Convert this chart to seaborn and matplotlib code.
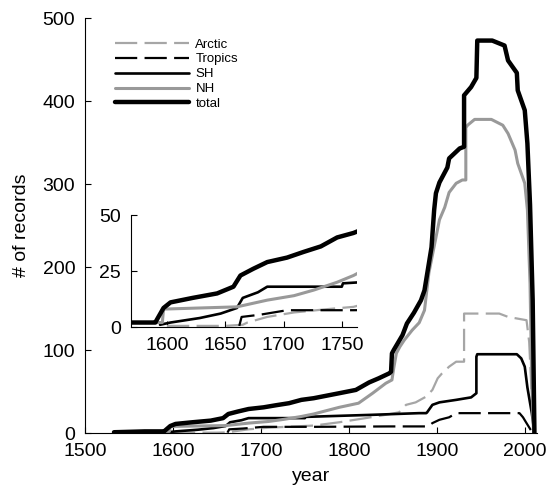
import pandas as pd
import seaborn as sns
import matplotlib.pyplot as plt

# cumulative number of records per year
total_year = [1533, 1568, 1590, 1591, 1597, 1603, 1622, 1643, 1657, 1663, 1674, 1686, 1703, 1717,
              1732, 1746, 1760, 1789, 1808, 1823, 1834, 1846, 1848, 1849, 1851, 1861, 1866, 1874,
              1882, 1886, 1894, 1897, 1899, 1903, 1912, 1914, 1926, 1931, 1931, 1939, 1945, 1946,
              1963, 1977, 1981, 1991, 1992, 2000, 2003, 2006, 2009, 2011]
total_val = [1, 2, 2, 3, 8.5, 11, 13, 15, 18, 23, 26, 29, 31, 33.5,
             36, 40, 42, 48, 52, 61, 66, 72, 74, 96, 100, 118, 132, 145,
             160, 172, 224, 269, 289, 302, 320, 331, 343, 345, 407, 417, 428, 473,
             473, 467, 449, 434, 413, 389, 349, 275, 160, 0]

nh_year = [1533, 1568, 1596, 1597, 1660, 1686, 1709, 1726, 1746, 1760, 1789, 1811, 1827, 1842,
           1849, 1851, 1854, 1858, 1863, 1872, 1880, 1886, 1891, 1903, 1909, 1914, 1922, 1929,
           1933, 1933, 1935, 1943, 1962, 1975, 1981, 1989, 1992, 1996, 2000, 2003, 2006, 2008, 2010]
nh_val = [1, 2, 2, 8, 9, 12, 14, 16.5, 20, 23, 31, 36, 48, 60,
          64, 78, 96, 104, 112, 124, 133, 148, 193, 257, 272, 290, 301, 305,
          305, 368, 371, 378, 378, 371, 361, 341, 325, 313, 301, 269, 180, 60, 0]

sh_year = [1594, 1603, 1628, 1646, 1660, 1665, 1678, 1686, 1750, 1751, 1827, 1880, 1888, 1889,
           1895, 1903, 1922, 1939, 1945, 1945, 1946, 1991, 1996, 2000, 2003, 2008, 2011]
sh_val = [1, 2, 4, 6, 8.5, 13, 15.5, 18, 18, 19.5, 22, 24, 24, 25,
          34, 37, 40, 43, 48, 92, 95, 95, 90, 80, 55, 24, 0]

tropics_year = [1662, 1664, 1680, 1703, 1760, 1846, 1890, 1895, 1903, 1914, 1922, 1994, 1998, 2002, 2009]
tropics_val = [0.5, 4.5, 5.5, 7.5, 7.5, 8, 8, 12, 16, 19, 24, 24, 19, 12, 0]

arctic_year = [1600, 1650, 1665, 1669, 1686, 1709, 1738, 1760, 1789, 1819, 1842, 1857, 1865, 1876,
               1888, 1895, 1901, 1906, 1914, 1922, 1931, 1931, 1971, 1981, 2002, 2005, 2010]
arctic_val = [0.5, 0.5, 1, 2, 4.5, 6.5, 8, 9, 13, 18, 22, 25, 34, 37,
              44, 52, 66, 72, 80, 86, 86, 144, 144, 140, 136, 110, 0]

sns.set_style("ticks")
plt.rcParams["font.family"] = ["Liberation Sans", "DejaVu Sans"]
plt.rcParams["xtick.direction"] = "in"
plt.rcParams["ytick.direction"] = "in"
plt.rcParams["text.color"] = "black"
plt.rcParams["axes.labelcolor"] = "black"
plt.rcParams["axes.edgecolor"] = "black"
plt.rcParams["xtick.color"] = "black"
plt.rcParams["ytick.color"] = "black"

series = [
    ("Arctic", arctic_year, arctic_val, "#a6a6a6", 1.6, (0, (10, 3.3))),
    ("Tropics", tropics_year, tropics_val, "black", 1.6, (0, (10, 3.3))),
    ("SH", sh_year, sh_val, "black", 1.9, "-"),
    ("NH", nh_year, nh_val, "#999999", 2.2, "-"),
    ("total", total_year, total_val, "black", 3.2, "-"),
]

fig = plt.figure(figsize=(5.5, 4.91), dpi=100)
ax = fig.add_axes([0.1545, 0.118, 0.822, 0.845])
ins = fig.add_axes([0.238, 0.334, 0.411, 0.228])

for name, yrs, vals, col, lw, ls in series:
    df = pd.DataFrame({"year": yrs, "n": vals})
    sns.lineplot(data=df, x="year", y="n", ax=ax, color=col, lw=lw, linestyle=ls,
                 estimator=None, sort=False, label=name)
    sns.lineplot(data=df, x="year", y="n", ax=ins, color=col, lw=lw, linestyle=ls,
                 estimator=None, sort=False, legend=False)

ax.set_xlim(1500, 2014)
ax.set_ylim(0, 500)
ax.set_xticks([1500, 1600, 1700, 1800, 1900, 2000])
ax.set_yticks([0, 100, 200, 300, 400, 500])
ax.set_xlabel("year", fontsize=14, labelpad=6)
ax.set_ylabel("# of records", fontsize=14, labelpad=9)
ax.tick_params(labelsize=14, length=4, width=0.8, pad=7)
sns.despine(ax=ax)

ins.set_xlim(1569, 1763)
ins.set_ylim(0, 50)
ins.set_xticks([1600, 1650, 1700, 1750])
ins.set_yticks([0, 25, 50])
ins.set_xlabel("")
ins.set_ylabel("")
ins.tick_params(labelsize=14, length=4, width=0.8, pad=7)
sns.despine(ax=ins)

ax.legend(loc="upper left", bbox_to_anchor=(0.04, 0.98), frameon=False, fontsize=9.5,
          handlelength=5.6, labelspacing=0.2, handletextpad=0.5)

fig.savefig("out.png", dpi=100)
